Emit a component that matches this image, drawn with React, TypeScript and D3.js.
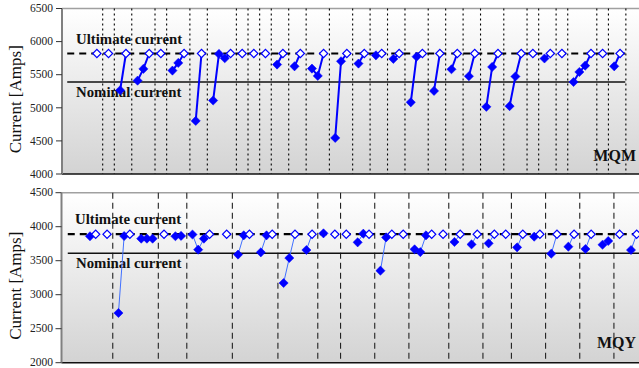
import React from 'react';
import * as d3 from 'd3';

// MQM: magnet start slot, quench values before reaching ultimate (all reached it)
const MQM_START = [0, 2, 4, 7, 11, 13, 17, 20, 25, 27, 29, 31, 34, 37, 41, 45, 48, 51, 54, 58, 61, 64, 67, 71, 75, 77, 80, 82, 87, 89];
const MQM_QUENCH = [
  [], [], [5265], [5410, 5588], [], [5562, 5678], [4802], [5110, 5814, 5748], [], [], [],
  [5653], [5627], [5592, 5482], [4545, 5703], [5668], [5793], [5739], [5083, 5773], [5255],
  [5582], [5477], [5015, 5617], [5025, 5473], [], [5745], [], [5390, 5541, 5637], [], [5627],
];
const MQM_REACHED = MQM_START.map(() => true);
const MQM_SEPARATORS = [1, 3, 6, 10, 12, 16, 19, 24, 26, 28, 30, 33, 36, 40, 44, 47, 50, 53, 57, 60, 63, 66, 70, 74, 76, 79, 81, 86, 88, 91];
const MQM_NOMINAL = 5390;
const MQM_ULTIMATE = 5820;

// MQY
const MQY_START = [0, 3, 5, 9, 13, 15, 18, 24, 26, 30, 34, 38, 41, 43, 45, 47, 51, 55, 57, 62, 64, 67, 70, 73, 75, 78, 81, 84, 87, 90, 93, 95];
const MQY_QUENCH = [
  [3859], [], [2731, 3863], [3824, 3824, 3824], [], [3860, 3865], [3885, 3662, 3824], [],
  [3590, 3873], [3623, 3873], [3172, 3540], [3657], [3902], [], [], [3770, 3897], [3353, 3843],
  [], [3667, 3627, 3873], [], [3775], [3740], [3755], [], [3696], [3853], [3603], [3706], [3672],
  [3735, 3790], [], [3657],
];
const MQY_REACHED = [true, true, true, false, true, false, true, true, true, true, true, true, false, true, true, true, true, true, true, true, true, true, true, true, true, true, true, true, true, false, true, true];
const MQY_SEPARATORS = [4, 12, 17, 25, 33, 40, 44, 50, 56, 63, 69, 74, 80, 86, 92];
const MQY_NOMINAL = 3610;
const MQY_ULTIMATE = 3890;

const MQM_TICKS = [4000, 4500, 5000, 5500, 6000, 6500];
const MQY_TICKS = [2000, 2500, 3000, 3500, 4000, 4500];

const BLUE = '#0000ff';
const serif = "'Liberation Serif', 'Times New Roman', Times, serif";

interface PanelProps {
  id: string;
  name: string;
  starts: number[];
  quenches: number[][];
  reached: boolean[];
  separators: number[];
  nominal: number;
  ultimate: number;
  ticks: number[];
  xDomain: [number, number];
  xRange: [number, number];
  yRange: [number, number];
  refFrom: number;
  refTo: number;
  sepDash: string;
  sepColor: string;
  lineColor: string;
  lineWidth: number;
  labelBase: [number, number];
  nameY: number;
}

const filledSym = d3.symbol(d3.symbolSquare, 42)()!;
const openSym = d3.symbol(d3.symbolSquare, 34)()!;

const Panel: React.FC<PanelProps> = p => {
  const x = d3.scaleLinear().domain(p.xDomain).range(p.xRange);
  const y = d3.scaleLinear().domain([p.ticks[0], p.ticks[p.ticks.length - 1]]).range(p.yRange);
  const [left, right] = p.xRange;
  const [bottom, top] = p.yRange;
  const line = d3.line<[number, number]>().x(d => x(d[0])).y(d => y(d[1]));

  const magnets = p.starts.map((s, i) => {
    const pts: { slot: number; v: number; open: boolean }[] = p.quenches[i].map((v, k) => ({ slot: s + k, v, open: false }));
    if (p.reached[i]) pts.push({ slot: s + p.quenches[i].length, v: p.ultimate, open: true });
    return pts;
  });

  return (
    <g style={{ fontFamily: serif }}>
      <defs>
        <linearGradient id={p.id} x1="0" y1="0" x2="0" y2="1">
          <stop offset="0%" stopColor="#ffffff" />
          <stop offset="100%" stopColor="#d3d3d3" />
        </linearGradient>
      </defs>
      <rect x={left} y={top} width={right - left} height={bottom - top} fill={`url(#${p.id})`} />
      <line x1={left} x2={right} y1={top} y2={top} stroke="#a0a0a0" strokeWidth={1.5} />
      {p.separators.map(s => (
        <line key={s} x1={x(s)} x2={x(s)} y1={top} y2={bottom} stroke={p.sepColor} strokeWidth={1.1} strokeDasharray={p.sepDash} />
      ))}
      <line x1={x(p.refFrom)} x2={x(p.refTo)} y1={y(p.nominal)} y2={y(p.nominal)} stroke="#111" strokeWidth={1.6} />
      <line x1={x(p.refFrom)} x2={x(p.refTo)} y1={y(p.ultimate)} y2={y(p.ultimate)} stroke="#000" strokeWidth={2.2} strokeDasharray="7,5" />
      <text x={p.labelBase[0]} y={y(p.ultimate) - 10} fontWeight="bold" fontSize={14.8} fill="#111">Ultimate current</text>
      <text x={p.labelBase[1]} y={y(p.nominal) + 15} fontWeight="bold" fontSize={14.8} fill="#111">Nominal current</text>
      {magnets.map((pts, i) => (
        <path key={i} d={line(pts.map(d => [d.slot, d.v] as [number, number])) || ''} fill="none" stroke={p.lineColor} strokeWidth={p.lineWidth} />
      ))}
      {magnets.flat().map((d, i) => (
        <path
          key={i}
          d={d.open ? openSym : filledSym}
          transform={`translate(${x(d.slot)},${y(d.v)}) rotate(45)`}
          fill={d.open ? '#fff' : BLUE}
          stroke={BLUE}
          strokeWidth={d.open ? 1.2 : 0.5}
        />
      ))}
      <line x1={left} x2={right} y1={bottom} y2={bottom} stroke="#111" strokeWidth={1.5} />
      <line x1={left} x2={left} y1={top} y2={bottom} stroke="#808080" strokeWidth={2} />
      {p.ticks.map(t => (
        <g key={t}>
          <line x1={left - 6} x2={left} y1={y(t)} y2={y(t)} stroke="#333" strokeWidth={1} />
          <text x={53} y={y(t)} dy="0.33em" textAnchor="end" fontSize={11.5} fill="#222">{t}</text>
        </g>
      ))}
      <text transform={`translate(21,${(top + bottom) / 2 + 8}) rotate(-90)`} textAnchor="middle" fontSize={17} fill="#111">Current [Amps]</text>
      <text x={636} y={p.nameY} textAnchor="end" fontWeight="bold" fontSize={16} fill="#111">{p.name}</text>
    </g>
  );
};

export default function App() {
  return (
    <svg width={639} height={368} style={{ position: 'absolute', left: 0, top: 0, background: '#fff' }}>
      <Panel
        id="gMQM" name="MQM" starts={MQM_START} quenches={MQM_QUENCH} reached={MQM_REACHED}
        separators={MQM_SEPARATORS} nominal={MQM_NOMINAL} ultimate={MQM_ULTIMATE} ticks={MQM_TICKS}
        xDomain={[-6, 94]} xRange={[62, 643.3]} yRange={[174, 8.5]} refFrom={-5.1} refTo={90.9}
        sepDash="2,3" sepColor="#000" lineColor={BLUE} lineWidth={2}
        labelBase={[76, 76]} nameY={161}
      />
      <Panel
        id="gMQY" name="MQY" starts={MQY_START} quenches={MQY_QUENCH} reached={MQY_REACHED}
        separators={MQY_SEPARATORS} nominal={MQY_NOMINAL} ultimate={MQY_ULTIMATE} ticks={MQY_TICKS}
        xDomain={[-5, 97]} xRange={[61.5, 642.4]} yRange={[362.7, 192.7]} refFrom={-3.9} refTo={97}
        sepDash="6,4" sepColor="#222" lineColor="#4070ff" lineWidth={1}
        labelBase={[75, 76]} nameY={348}
      />
    </svg>
  );
}
